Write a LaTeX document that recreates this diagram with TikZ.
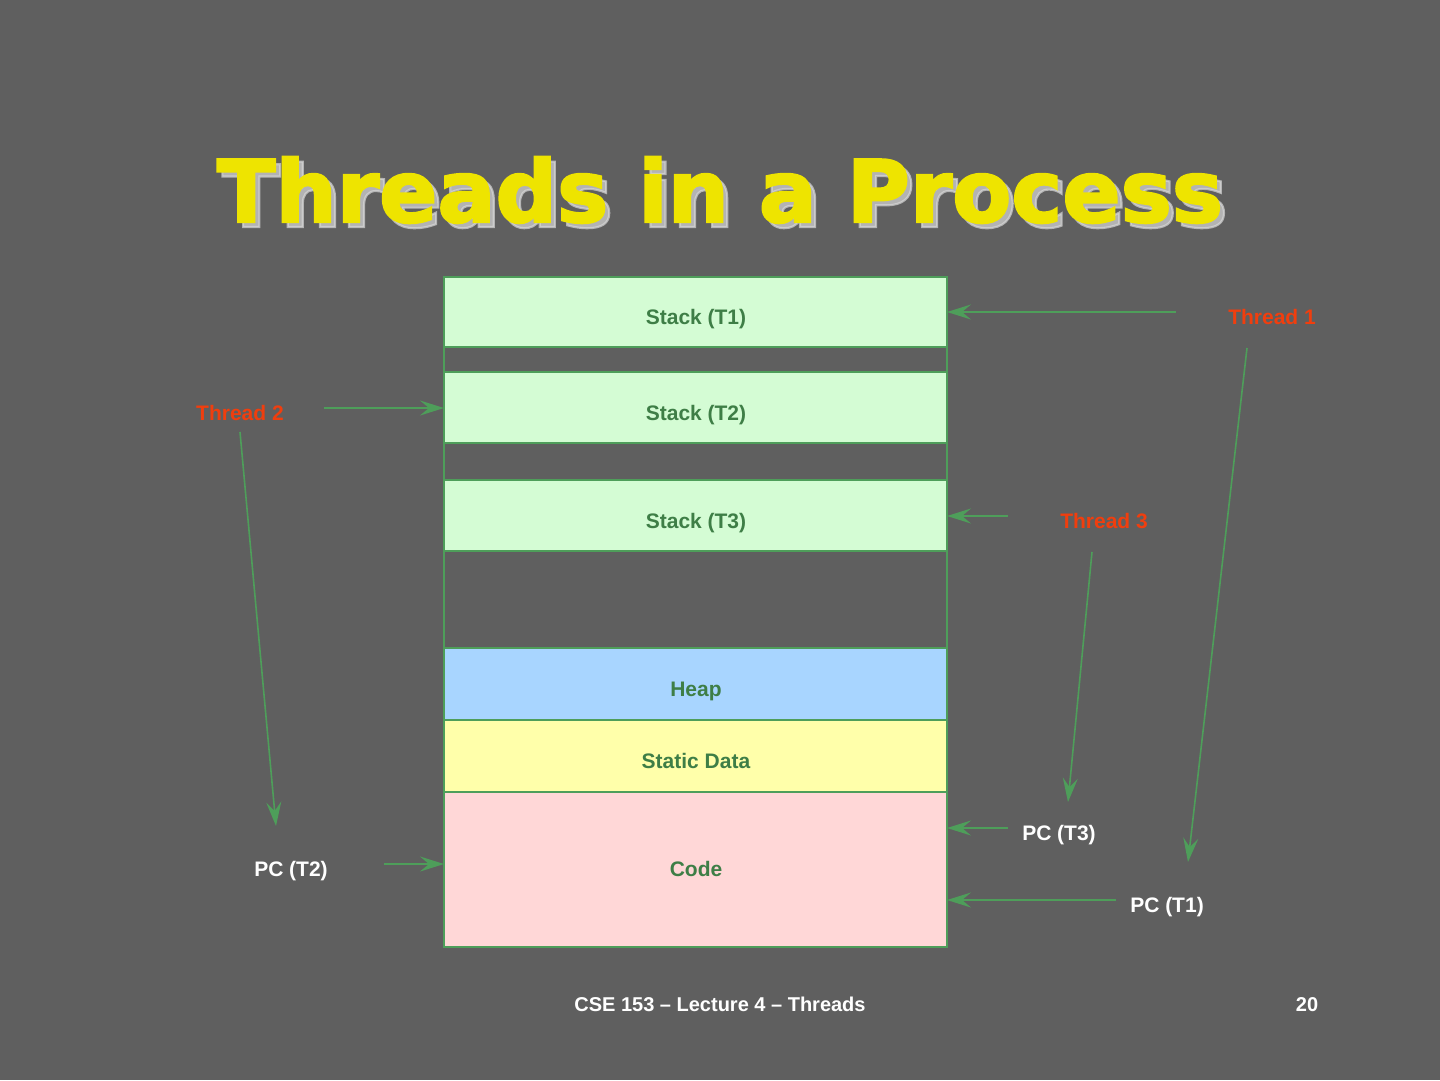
\documentclass[tikz,border=0pt]{standalone}
\usepackage{fontspec}
\setmainfont{Liberation Sans}
\newfontfamily\titlefont[FakeBold=2.5]{DejaVu Sans Bold}
\usetikzlibrary{arrows.meta}
\definecolor{bgc}{RGB}{95,95,95}
\definecolor{lineg}{RGB}{78,158,90}
\definecolor{txtg}{RGB}{62,126,70}
\definecolor{stackc}{RGB}{212,252,212}
\definecolor{heapc}{RGB}{168,213,255}
\definecolor{staticc}{RGB}{255,255,170}
\definecolor{codec}{RGB}{255,215,215}
\definecolor{redt}{RGB}{240,62,14}
\definecolor{yel}{RGB}{238,228,0}
\definecolor{shad}{RGB}{215,215,215}
\begin{document}
\begin{tikzpicture}[x=1pt,y=-1pt,
  seg/.style={draw=lineg, line width=1.5pt, minimum width=503pt, inner sep=0pt, outer sep=0pt, anchor=north west},
  boxtxt/.style={anchor=base, font=\fontsize{21}{25}\selectfont\bfseries, text=txtg, inner sep=0pt},
  thr/.style={anchor=base, font=\fontsize{21}{25}\selectfont\bfseries, text=redt, inner sep=0pt},
  pc/.style={anchor=base, font=\fontsize{21}{25}\selectfont\bfseries, text=white, inner sep=0pt},
  tfont/.style={anchor=base, inner sep=0pt, font=\titlefont\fontsize{86}{96}\selectfont},
  arr/.style={draw=lineg, line width=1.6pt, -{Stealth[length=24pt, width=15pt, inset=9pt]}}]
\fill[bgc] (0,0) rectangle (1440,1080);
\useasboundingbox (0,0) rectangle (1440,1080);
% title with soft shadow
\node[tfont, text=shad, opacity=0.7] (tshadow) at (725,227) {Threads in a Process};
\node[tfont, text=yel] (title) at (720,222) {Threads in a Process};
% memory column
\node[seg, minimum height=670pt, fill=bgc] (col) at (444,277) {};
\node[seg, minimum height=70pt, fill=stackc] (s1) at (444,277) {};
\node[seg, minimum height=71pt, fill=stackc] (s2) at (444,372) {};
\node[seg, minimum height=71pt, fill=stackc] (s3) at (444,480) {};
\node[seg, minimum height=72pt, fill=heapc] (heap) at (444,648) {};
\node[seg, minimum height=72pt, fill=staticc] (stat) at (444,720) {};
\node[seg, minimum height=155pt, fill=codec] (code) at (444,792) {};
\node[boxtxt] (ls1) at (696,324) {Stack (T1)};
\node[boxtxt] (ls2) at (696,420) {Stack (T2)};
\node[boxtxt] (ls3) at (696,528) {Stack (T3)};
\node[boxtxt] (lheap) at (696,696) {Heap};
\node[boxtxt] (lstat) at (696,768) {Static Data};
\node[boxtxt] (lcode) at (696,876) {Code};
% labels
\node[thr] (t1) at (1272,324) {Thread 1};
\node[thr] (t2) at (240,420) {Thread 2};
\node[thr] (t3) at (1104,528) {Thread 3};
\node[pc] (pc3) at (1059,840) {PC (T3)};
\node[pc] (pc2) at (291,876) {PC (T2)};
\node[pc] (pc1) at (1167,912) {PC (T1)};
% connector ends
\coordinate (a1) at (1176,312);
\coordinate (a2s) at (1247,348);
\coordinate (a2e) at (1188,862);
\coordinate (a3) at (324,408);
\coordinate (a4s) at (240,432);
\coordinate (a4e) at (276,826);
\coordinate (a5) at (1008,516);
\coordinate (a6s) at (1092,552);
\coordinate (a6e) at (1068,802);
\coordinate (a7) at (1008,828);
\coordinate (a8) at (384,864);
\coordinate (a9) at (1116,900);
\draw[arr] (a1) -- (s1.east |- a1);
\draw[arr] (a2s) -- (a2e);
\draw[arr] (a3) -- (s2.west |- a3);
\draw[arr] (a4s) -- (a4e);
\draw[arr] (a5) -- (s3.east |- a5);
\draw[arr] (a6s) -- (a6e);
\draw[arr] (a7) -- (code.east |- a7);
\draw[arr] (a8) -- (code.west |- a8);
\draw[arr] (a9) -- (code.east |- a9);
% footer
\node[pc, font=\fontsize{20}{24}\selectfont\bfseries] (foot) at (720,1011) {CSE 153 – Lecture 4 – Threads};
\node[pc, font=\fontsize{20}{24}\selectfont\bfseries] (num) at (1307,1011) {20};
\end{tikzpicture}
\end{document}
